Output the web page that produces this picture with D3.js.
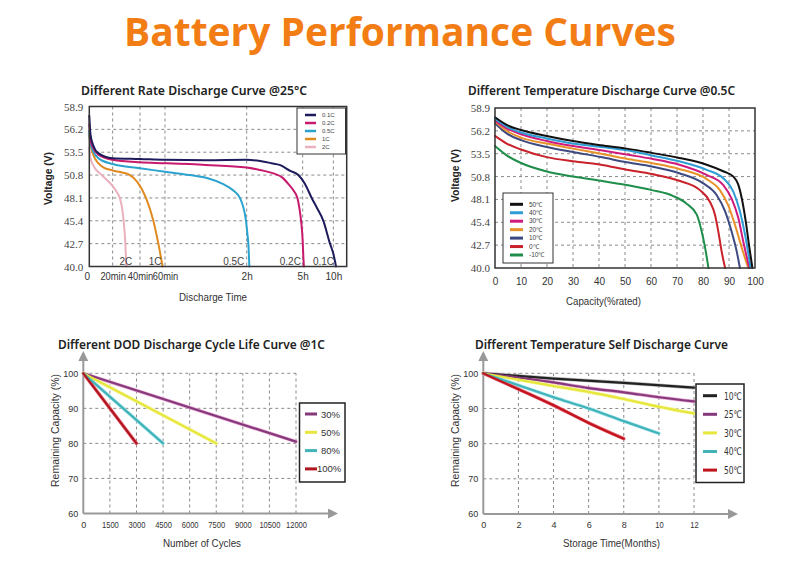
<!DOCTYPE html>
<html><head><meta charset="utf-8">
<script src="https://cdn.jsdelivr.net/npm/d3@7"></script>
<style>
html,body{margin:0;padding:0;background:#fff;}
svg{display:block;}
text{font-family:"Liberation Sans",Arial,sans-serif;}
</style></head>
<body>
<script>
// ---------------- DATA ----------------
const mainTitle = "Battery Performance Curves";

// Panel 1: Different Rate Discharge Curve @25°C  (time in minutes, voltage V)
const p1Title = "Different Rate Discharge Curve @25°C";
const rateLabels = ["0.1C", "0.2C", "0.5C", "1C", "2C"];
const rateTickMinutes = [0, 20, 40, 60, 120, 300, 600];
const rateTickLabels = ["0", "20min", "40min", "60min", "2h", "5h", "10h"];
const voltageTicks = [40.0, 42.7, 45.4, 48.1, 50.8, 53.5, 56.2, 58.9];
const rate01C = [[0,57.8],[1,55.6],[3.4,54.3],[7.7,53.4],[20,52.8],[40,52.7],[60,52.6],[90,52.55],[120,52.6],[163,52.45],[200,52.2],[226,52.0],[260,51.3],[286,50.8],[320,49.8],[388,48.1],[445,46.8],[502,45.4],[567,42.7],[600,41.5],[626,40.0]];
const rate02C = [[0,56.8],[1,55.0],[3.4,54.0],[7.7,53.2],[20,52.6],[40,52.3],[60,52.2],[90,52.0],[120,51.7],[163,51.4],[206,51.0],[235,50.5],[255,49.7],[270,49.0],[283,48.1],[291,46.5],[296,45.0],[300,43.0],[305,41.5],[312,40.0]];
const rate05C = [[0,56.0],[1,54.6],[3.4,53.6],[7.7,52.8],[20,52.1],[40,51.6],[60,51.2],[78,50.8],[92,50.4],[102,49.8],[110,49.0],[115,48.1],[119.5,45.4],[122.5,43.8],[125.4,42.7],[128.6,40.0]];
const rate1C = [[0,55.5],[1,54.5],[3.4,53.2],[7.7,52.2],[12,51.7],[20,51.35],[27,51.1],[32.7,50.8],[38,50.0],[44.8,48.1],[50.7,45.4],[54.7,42.7],[58.1,40.0]];
const rate2C = [[0,54.0],[1,52.8],[4,51.8],[10.6,50.8],[16,50.1],[20,49.5],[23,48.8],[25.2,48.1],[27,46.8],[28,45.4],[29.3,42.7],[30,40.0]];

// Panel 2: Different Temperature Discharge Curve @0.5C  (capacity %, voltage V)
const p2Title = "Different Temperature Discharge Curve @0.5C";
const tempLabels = ["50℃", "40℃", "30℃", "20℃", "10℃", "0℃", "-10℃"];
const capacityTicks = [0, 10, 20, 30, 40, 50, 60, 70, 80, 90, 100];
const temp50 = [[0,57.8],[4.5,56.9],[10,56.3],[19.9,55.6],[30,55.0],[40.8,54.5],[50.6,54.1],[60.3,53.6],[70.9,53.0],[81.4,52.2],[88,51.4],[91.7,50.8],[93.5,49.9],[95,48.1],[96.5,45.4],[97.7,42.7],[99,40.0]];
const temp40 = [[0,57.6],[4.5,56.7],[10,56.0],[19.9,55.3],[30,54.7],[40.8,54.3],[50.6,53.9],[60.3,53.3],[70.9,52.6],[81.4,51.6],[87.8,50.6],[91.7,49.0],[94.2,46.7],[96.2,43.9],[98.3,40.0]];
const temp30 = [[0,57.4],[4.5,56.5],[10,55.8],[19.9,55.0],[30,54.4],[40.8,53.9],[50.6,53.4],[60.3,52.9],[70.9,52.2],[81.4,51.0],[87.8,49.8],[91,48.2],[93.6,45.9],[95.5,43.1],[97.8,40.0]];
const temp20 = [[0,57.3],[4.5,56.2],[10,55.4],[19.9,54.7],[30,54.1],[40.8,53.5],[50.6,52.9],[60.3,52.4],[70.9,51.7],[81.4,50.5],[86.5,49.2],[89.7,47.4],[92.3,45.1],[94.9,42.4],[97.4,40.0]];
const temp10 = [[0,57.1],[4.5,55.9],[10,55.1],[19.9,54.3],[30,53.7],[40.8,53.1],[50.6,52.5],[60.3,52.0],[70.9,51.2],[80.1,50.0],[85.3,48.6],[88.5,46.7],[91,44.3],[93,41.9],[94.2,40.0]];
const temp0 = [[0,55.6],[4.5,54.7],[10,54.0],[19.9,53.1],[30,52.6],[40.8,52.2],[50.6,51.6],[60.3,51.1],[70.9,50.3],[78.8,49.2],[82.7,47.8],[84.6,46.3],[85.9,44.3],[87.2,41.9],[88.5,40.0]];
const tempM10 = [[0,54.4],[4.5,53.3],[10,52.4],[19.9,51.4],[30,50.8],[40.8,50.3],[50.6,49.8],[60.3,49.2],[68.6,48.5],[73.7,47.6],[77.6,46.3],[79.5,44.3],[80.8,42.4],[82.1,40.0]];

// Panel 3: Different DOD Discharge Cycle Life Curve @1C (cycles, remaining %)
const p3Title = "Different DOD Discharge Cycle Life Curve @1C";
const dodLabels = ["30%", "50%", "80%", "100%"];
const cycleTicks = [0, 1500, 3000, 4500, 6000, 7500, 9000, 10500, 12000];
const remainingTicks = [60, 70, 80, 90, 100];
const dod30 = [[0,100],[12000,80.5]];
const dod50 = [[0,100],[7500,80]];
const dod80 = [[0,100],[4500,80]];
const dod100 = [[0,100],[3000,80]];

// Panel 4: Different Temperature Self Discharge Curve (months, remaining %)
const p4Title = "Different Temperature Self Discharge Curve";
const storageLabels = ["10℃", "25℃", "30℃", "40℃", "50℃"];
const monthTicks = [0, 2, 4, 6, 8, 10, 12];
const self10 = [[0,100],[4,98.5],[8,97.3],[12,95.9]];
const self25 = [[0,100],[2,98.8],[4,97.4],[6,95.8],[8,94.6],[10,93.2],[12,92.0]];
const self30 = [[0,100],[2,98.2],[4,96.4],[6,94.7],[8,92.7],[10,90.5],[12,88.6]];
const self40 = [[0,100],[2,96.6],[4,93.2],[6,90.0],[8,86.4],[10,82.9]];
const self50 = [[0,100],[2,95.5],[4,90.9],[6,85.9],[8,81.4]];

// ---------------- DRAW ----------------
const W = 800, H = 572;
const svg = d3.select("body").append("svg").attr("width", W).attr("height", H);
svg.append("rect").attr("width", W).attr("height", H).attr("fill", "#fff");

svg.append("text").text(mainTitle)
  .attr("x", 124).attr("y", 46)
  .attr("textLength", 552).attr("lengthAdjust", "spacingAndGlyphs")
  .style("font-family", "'Open Sans', 'Noto Sans', sans-serif")
  .style("font-weight", 700).style("font-size", "39px")
  .attr("fill", "#f27d14");

function fitText(g, str, x, y, len, opts) {
  const t = g.append("text").text(str).attr("x", x).attr("y", y)
    .style("font-size", (opts.size || 10) + "px")
    .style("font-weight", opts.weight || 400)
    .style("font-family", opts.family || "'Liberation Sans', Arial, sans-serif")
    .attr("fill", opts.fill || "#333");
  if (len) t.attr("textLength", len).attr("lengthAdjust", "spacingAndGlyphs");
  if (opts.anchor) t.attr("text-anchor", opts.anchor);
  if (opts.rotate) t.attr("transform", `rotate(-90,${x},${y})`);
  return t;
}
const titleOpts = {size: 12.5, weight: 600, family: "'Noto Sans', 'Open Sans', sans-serif", fill: "#222"};

// squeeze tick label widths to a given width per character (condensed look)
function condense(sel, perChar) {
  sel.each(function () {
    const s = d3.select(this).text();
    if (s.length > 1) d3.select(this).attr("textLength", s.length * perChar).attr("lengthAdjust", "spacingAndGlyphs");
  });
}

function drawSeries(g, list, x, y, colors, width, curve) {
  const line = d3.line().x(d => x(d[0])).y(d => y(d[1])).curve(curve);
  list.forEach((s, i) => {
    g.append("path").datum(s).attr("d", line)
      .attr("fill", "none").attr("stroke", colors[i])
      .attr("stroke-width", width).attr("stroke-linejoin", "round").attr("stroke-linecap", "round");
  });
}

function dashed(g, x1, y1, x2, y2) {
  g.append("line").attr("x1", x1).attr("y1", y1).attr("x2", x2).attr("y2", y2)
    .attr("stroke", "#8a8a8a").attr("stroke-width", 1).attr("stroke-dasharray", "3,3");
}

// ===== Panel 1 =====
{
  const g = svg.append("g");
  const L = 89.3, R = 346.7, T = 106.5, B = 266.5;
  const frac = [0, 0.0907, 0.1969, 0.2940, 0.6114, 0.8290, 0.9482];
  const x = d3.scaleLinear().domain(rateTickMinutes).range(frac.map(f => L + f * (R - L)));
  const y = d3.scaleLinear().domain([40, 58.9]).range([B, T]);

  voltageTicks.slice(1, -1).forEach(v => dashed(g, L, y(v), R, y(v)));
  rateTickMinutes.slice(1).forEach(m => dashed(g, x(m), T, x(m), B));

  const colors = ["#1d1b5c", "#c81a6c", "#2ba3cf", "#e18a20", "#eab0bd"];
  const series = [rate01C, rate02C, rate05C, rate1C, rate2C];
  drawSeries(g, series.slice().reverse(), x, y, colors.slice().reverse(), 2, d3.curveMonotoneX);

  g.append("rect").attr("x", L).attr("y", T).attr("width", R - L).attr("height", B - T)
    .attr("fill", "none").attr("stroke", "#333").attr("stroke-width", 1.5);

  const ya = g.append("g").attr("transform", `translate(${L},0)`)
    .call(d3.axisLeft(y).tickValues(voltageTicks).tickFormat(d3.format(".1f")).tickSize(0).tickPadding(6));
  ya.select(".domain").remove();
  ya.selectAll("text").style("font-family", "'Liberation Serif', 'Times New Roman', serif")
    .style("font-size", "11px").attr("fill", "#444");

  const xa = g.append("g").attr("transform", `translate(0,${B})`)
    .call(d3.axisBottom(x).tickValues(rateTickMinutes).tickFormat((d, i) => rateTickLabels[i]).tickSize(0).tickPadding(6));
  xa.select(".domain").remove();
  xa.selectAll("text").style("font-size", "10px").attr("fill", "#333");
  condense(xa.selectAll("text").filter(function () { return d3.select(this).text().length > 3; }), 5.1);
  xa.selectAll(".tick").filter((d, i) => i === 0).attr("transform", `translate(${x(0) - 2},0)`);

  // curve end labels
  const ends = series.map(s => s[s.length - 1][0]);
  const lblShift = [-2, -3, -5, -1, 6];
  rateLabels.forEach((lab, i) => {
    g.append("text").text(lab).attr("x", x(ends[i]) + lblShift[i]).attr("y", B - 2)
      .attr("text-anchor", "end").style("font-size", "10px").attr("fill", "#444");
  });

  // legend
  const lg = g.append("g");
  lg.append("rect").attr("x", 297).attr("y", 108).attr("width", 48.5).attr("height", 46)
    .attr("fill", "#fff").attr("stroke", "#333").attr("stroke-width", 1);
  rateLabels.forEach((lab, i) => {
    const yy = 115 + i * 8;
    lg.append("line").attr("x1", 305).attr("x2", 316).attr("y1", yy).attr("y2", yy)
      .attr("stroke", colors[i]).attr("stroke-width", 2.5);
    lg.append("text").text(lab).attr("x", 322).attr("y", yy + 2)
      .style("font-size", "6px").attr("fill", "#444");
  });

  fitText(g, p1Title, 81, 94.5, 226, titleOpts);
  fitText(g, "Voltage (V)", 52, 205, 53, {size: 10, weight: 700, rotate: true, fill: "#222"});
  fitText(g, "Discharge Time", 179, 301, 68, {size: 10, fill: "#333"});
}

// ===== Panel 2 =====
{
  const g = svg.append("g");
  const L = 495, R = 755, T = 108, B = 268;
  const x = d3.scaleLinear().domain([0, 100]).range([L, R]);
  const y = d3.scaleLinear().domain([40, 58.9]).range([B, T]);

  voltageTicks.slice(1, -1).forEach(v => dashed(g, L, y(v), R, y(v)));
  capacityTicks.slice(1, -1).forEach(c => dashed(g, x(c), T, x(c), B));

  const colors = ["#111111", "#2f9ed6", "#cf1a7c", "#e8922c", "#3d4a80", "#c9222b", "#1f8e4b"];
  const series = [temp50, temp40, temp30, temp20, temp10, temp0, tempM10];
  drawSeries(g, series.slice().reverse(), x, y, colors.slice().reverse(), 2, d3.curveMonotoneX);

  g.append("rect").attr("x", L).attr("y", T).attr("width", R - L).attr("height", B - T)
    .attr("fill", "none").attr("stroke", "#333").attr("stroke-width", 1.5);

  const ya = g.append("g").attr("transform", `translate(${L},0)`)
    .call(d3.axisLeft(y).tickValues(voltageTicks).tickFormat(d3.format(".1f")).tickSize(0).tickPadding(5));
  ya.select(".domain").remove();
  ya.selectAll("text").style("font-family", "'Liberation Serif', 'Times New Roman', serif")
    .style("font-size", "11px").attr("fill", "#444");

  const xa = g.append("g").attr("transform", `translate(0,${B})`)
    .call(d3.axisBottom(x).tickValues(capacityTicks).tickFormat(d3.format("d")).tickSize(0).tickPadding(10));
  xa.select(".domain").remove();
  xa.selectAll("text").style("font-size", "10px").attr("fill", "#333");

  // legend
  const lg = g.append("g");
  lg.append("rect").attr("x", 503).attr("y", 193).attr("width", 50).attr("height", 70)
    .attr("fill", "#fff").attr("stroke", "#333").attr("stroke-width", 1);
  tempLabels.forEach((lab, i) => {
    const yy = 204.3 + i * 8.45;
    lg.append("line").attr("x1", 510).attr("x2", 523).attr("y1", yy).attr("y2", yy)
      .attr("stroke", colors[i]).attr("stroke-width", 3);
    lg.append("text").text(lab).attr("x", 529).attr("y", yy + 2.2)
      .style("font-size", "6.5px").attr("fill", "#444");
  });

  fitText(g, p2Title, 468, 94.5, 267, titleOpts);
  fitText(g, "Voltage (V)", 459, 202, 53, {size: 10, weight: 700, rotate: true, fill: "#222"});
  fitText(g, "Capacity(%rated)", 566, 305, 75, {size: 10, fill: "#333"});
}

// arrow marker
const defs = svg.append("defs");
defs.append("marker").attr("id", "arr").attr("viewBox", "0 0 10 10")
  .attr("refX", 5).attr("refY", 5).attr("markerWidth", 5).attr("markerHeight", 5)
  .attr("orient", "auto")
  .append("path").attr("d", "M0,0 L10,5 L0,10 z").attr("fill", "#999");

function cyclePanel(g, L, x, y, xTicks, yTicks, xMaxTick, arrowX) {
  const B = y(60), T = y(100);
  yTicks.slice(1).forEach(v => dashed(g, L, y(v), x(xMaxTick), y(v)));
  xTicks.slice(1).forEach(c => dashed(g, x(c), B, x(c), T));
  g.append("line").attr("x1", L).attr("y1", B).attr("x2", L).attr("y2", 356)
    .attr("stroke", "#999").attr("stroke-width", 2).attr("marker-end", "url(#arr)");
  g.append("line").attr("x1", L).attr("y1", B).attr("x2", arrowX).attr("y2", B)
    .attr("stroke", "#999").attr("stroke-width", 2).attr("marker-end", "url(#arr)");

  const ya = g.append("g").attr("transform", `translate(${L},0)`)
    .call(d3.axisLeft(y).tickValues(yTicks).tickSize(0).tickPadding(5));
  ya.select(".domain").remove();
  ya.selectAll("text").style("font-size", "9px").attr("fill", "#333");
  const xa = g.append("g").attr("transform", `translate(0,${B})`)
    .call(d3.axisBottom(x).tickValues(xTicks).tickFormat(d3.format("d")).tickSize(0).tickPadding(8));
  xa.select(".domain").remove();
  xa.selectAll("text").style("font-size", "9px").attr("fill", "#333");
  condense(xa.selectAll("text"), 4.2);
}

// ===== Panel 3 =====
{
  const g = svg.append("g");
  const x = d3.scaleLinear().domain([0, 12000]).range([83.3, 296]);
  const y = d3.scaleLinear().domain([60, 100]).range([513.5, 373.3]);
  cyclePanel(g, 83.3, x, y, cycleTicks, remainingTicks, 12000, 333);

  const colors = ["#86397a", "#e6e63c", "#42b3b9", "#b0161f"];
  const halos = ["#e8a6d4", "#f6f6a0", "#a8e8ee", "#f07080"];
  const series = [dod30, dod50, dod80, dod100];
  drawSeries(g, series, x, y, halos, 3.5, d3.curveLinear);
  drawSeries(g, series, x, y, colors, 2.2, d3.curveLinear);

  const lg = g.append("g");
  lg.append("rect").attr("x", 299.5).attr("y", 403).attr("width", 45.5).attr("height", 79)
    .attr("fill", "#fff").attr("stroke", "#222").attr("stroke-width", 1.5);
  dodLabels.forEach((lab, i) => {
    const yy = 414 + i * 18.3;
    lg.append("line").attr("x1", 305).attr("x2", 317).attr("y1", yy).attr("y2", yy)
      .attr("stroke", colors[i]).attr("stroke-width", 3);
    lg.append("text").text(lab).attr("x", i === 3 ? 317 : 321).attr("y", yy + 3.5)
      .style("font-size", "9.5px").attr("fill", "#333");
  });

  fitText(g, p3Title, 58, 348.5, 267, titleOpts);
  fitText(g, "Remaining Capacity (%)", 59, 487, 113, {size: 10, rotate: true, fill: "#333"});
  fitText(g, "Number of Cycles", 163, 547, 78, {size: 10, fill: "#333"});
}

// ===== Panel 4 =====
{
  const g = svg.append("g");
  const x = d3.scaleLinear().domain([0, 12]).range([483.3, 694]);
  const y = d3.scaleLinear().domain([60, 100]).range([514, 373.3]);
  cyclePanel(g, 483.3, x, y, monthTicks, remainingTicks, 12, 733);

  const colors = ["#222222", "#86397a", "#e6e63c", "#42b3b9", "#c0141d"];
  const halos = ["#bbbbbb", "#e8a6d4", "#f6f6a0", "#a8e8ee", "#f07080"];
  const series = [self10, self25, self30, self40, self50];
  drawSeries(g, series, x, y, halos, 3.5, d3.curveMonotoneX);
  drawSeries(g, series, x, y, colors, 2.2, d3.curveMonotoneX);

  const lg = g.append("g");
  lg.append("rect").attr("x", 696).attr("y", 384).attr("width", 48).attr("height", 98.5)
    .attr("fill", "#fff").attr("stroke", "#222").attr("stroke-width", 1.5);
  storageLabels.forEach((lab, i) => {
    const yy = 395.7 + i * 18.6;
    lg.append("line").attr("x1", 703).attr("x2", 717).attr("y1", yy).attr("y2", yy)
      .attr("stroke", colors[i]).attr("stroke-width", 3);
    lg.append("text").text(lab).attr("x", 724).attr("y", yy + 3.8)
      .attr("textLength", 18).attr("lengthAdjust", "spacingAndGlyphs")
      .style("font-family", "'DejaVu Sans', sans-serif")
      .style("font-size", "10.5px").attr("fill", "#333");
  });

  fitText(g, p4Title, 475, 348.5, 253, titleOpts);
  fitText(g, "Remaining Capacity (%)", 459, 487, 113, {size: 10, rotate: true, fill: "#333"});
  fitText(g, "Storage Time(Months)", 563, 547, 97, {size: 10, fill: "#333"});
}
</script>
</body></html>
